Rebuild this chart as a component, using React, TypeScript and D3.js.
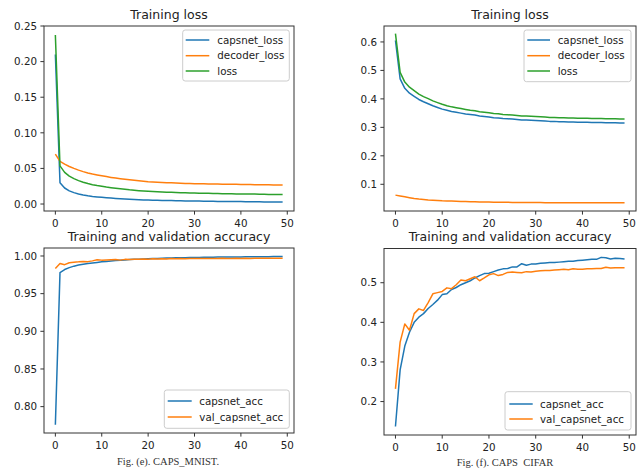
import React from "react";
import * as d3 from "d3";

const epochs: number[] = Array.from({ length: 50 }, (_, i) => i);
const xTicks = [0, 10, 20, 30, 40, 50];

// MNIST losses
const mnistCapsLoss = [0.210, 0.030, 0.0225, 0.0185, 0.0160, 0.0142, 0.0128, 0.0116, 0.0107, 0.0100,
  0.0094, 0.0088, 0.0083, 0.0078, 0.0074, 0.0070, 0.0066, 0.0063, 0.0060, 0.0058,
  0.0056, 0.0054, 0.0052, 0.0050, 0.0049, 0.0048, 0.0046, 0.0045, 0.0044, 0.0043,
  0.0042, 0.0041, 0.0040, 0.0039, 0.0038, 0.0037, 0.0036, 0.0036, 0.0035, 0.0034,
  0.0034, 0.0033, 0.0032, 0.0032, 0.0031, 0.0030, 0.0030, 0.0029, 0.0029, 0.0028];
const mnistDecLoss = [0.0700, 0.0600, 0.0560, 0.0527, 0.0500, 0.0476, 0.0455, 0.0437, 0.0422, 0.0409,
  0.0397, 0.0385, 0.0374, 0.0364, 0.0355, 0.0347, 0.0340, 0.0333, 0.0327, 0.0320,
  0.0314, 0.0310, 0.0306, 0.0303, 0.0300, 0.0297, 0.0294, 0.0291, 0.0289, 0.0287,
  0.0285, 0.0284, 0.0283, 0.0282, 0.0281, 0.0280, 0.0279, 0.0278, 0.0277, 0.0276,
  0.0275, 0.0274, 0.0273, 0.0272, 0.0271, 0.0270, 0.0269, 0.0268, 0.0268, 0.0267];
const mnistLoss = [0.2374, 0.0535, 0.0445, 0.0392, 0.0356, 0.0329, 0.0306, 0.0287, 0.0272, 0.0260,
  0.0250, 0.0239, 0.0230, 0.0221, 0.0213, 0.0206, 0.0199, 0.0194, 0.0188, 0.0183,
  0.0179, 0.0176, 0.0172, 0.0169, 0.0167, 0.0164, 0.0161, 0.0159, 0.0157, 0.0156,
  0.0154, 0.0152, 0.0151, 0.0150, 0.0148, 0.0147, 0.0145, 0.0145, 0.0144, 0.0142,
  0.0142, 0.0140, 0.0139, 0.0139, 0.0137, 0.0136, 0.0135, 0.0134, 0.0134, 0.0133];

// CIFAR losses
const cifarCapsLoss = [0.605, 0.470, 0.437, 0.420, 0.409, 0.398, 0.390, 0.383, 0.376, 0.370,
  0.364, 0.360, 0.356, 0.353, 0.350, 0.347, 0.345, 0.343, 0.340, 0.338,
  0.336, 0.334, 0.333, 0.331, 0.330, 0.329, 0.328, 0.326, 0.326, 0.325,
  0.324, 0.323, 0.322, 0.321, 0.321, 0.320, 0.320, 0.319, 0.319, 0.318,
  0.318, 0.318, 0.317, 0.317, 0.317, 0.316, 0.316, 0.316, 0.315, 0.315];
const cifarDecLoss = [0.062, 0.059, 0.056, 0.053, 0.050, 0.048, 0.047, 0.045, 0.044, 0.043,
  0.042, 0.0415, 0.041, 0.0405, 0.040, 0.0395, 0.039, 0.0386, 0.0382, 0.0378,
  0.0375, 0.0372, 0.0370, 0.0368, 0.0366, 0.0364, 0.0362, 0.0361, 0.0360, 0.0359,
  0.0358, 0.0357, 0.0356, 0.0355, 0.0355, 0.0354, 0.0354, 0.0353, 0.0353, 0.0352,
  0.0352, 0.0351, 0.0351, 0.0350, 0.0350, 0.0350, 0.0349, 0.0349, 0.0349, 0.0348];
const cifarLoss = [0.629, 0.493, 0.459, 0.441, 0.429, 0.417, 0.408, 0.401, 0.393, 0.387,
  0.381, 0.376, 0.372, 0.369, 0.366, 0.363, 0.360, 0.358, 0.355, 0.353,
  0.351, 0.349, 0.348, 0.345, 0.344, 0.343, 0.342, 0.340, 0.340, 0.339,
  0.338, 0.337, 0.336, 0.335, 0.335, 0.334, 0.334, 0.333, 0.333, 0.332,
  0.332, 0.332, 0.331, 0.331, 0.331, 0.330, 0.330, 0.330, 0.329, 0.329];

// MNIST accuracy
const mnistAcc = [0.776, 0.978, 0.982, 0.9845, 0.9865, 0.988, 0.989, 0.990, 0.9908, 0.9915,
  0.9922, 0.9928, 0.9934, 0.9939, 0.9944, 0.9948, 0.9952, 0.9955, 0.9958, 0.9961,
  0.9963, 0.9966, 0.9968, 0.9970, 0.9972, 0.9973, 0.9975, 0.9976, 0.9978, 0.9979,
  0.9980, 0.9981, 0.9982, 0.9983, 0.9984, 0.9985, 0.9986, 0.9986, 0.9987, 0.9988,
  0.9988, 0.9989, 0.9989, 0.9990, 0.9990, 0.9991, 0.9991, 0.9992, 0.9992, 0.9992];
const mnistValAcc = [0.9835, 0.9900, 0.9885, 0.9910, 0.9918, 0.9922, 0.9928, 0.9925, 0.9935, 0.9950,
  0.9945, 0.9948, 0.9950, 0.9953, 0.9945, 0.9955, 0.9952, 0.9958, 0.9956, 0.9960,
  0.9958, 0.9962, 0.9960, 0.9963, 0.9961, 0.9965, 0.9962, 0.9966, 0.9964, 0.9966,
  0.9967, 0.9965, 0.9968, 0.9966, 0.9968, 0.9967, 0.9969, 0.9967, 0.9968, 0.9969,
  0.9968, 0.9970, 0.9968, 0.9969, 0.9970, 0.9969, 0.9970, 0.9969, 0.9970, 0.9969];

// CIFAR accuracy
const cifarAcc = [0.137, 0.280, 0.340, 0.375, 0.400, 0.413, 0.422, 0.435, 0.445, 0.456,
  0.470, 0.472, 0.483, 0.488, 0.495, 0.500, 0.505, 0.512, 0.518, 0.523,
  0.524, 0.528, 0.532, 0.535, 0.536, 0.540, 0.540, 0.548, 0.544, 0.547,
  0.547, 0.549, 0.550, 0.551, 0.551, 0.552, 0.553, 0.554, 0.554, 0.556,
  0.557, 0.558, 0.559, 0.559, 0.564, 0.563, 0.560, 0.562, 0.561, 0.560];
const cifarValAcc = [0.232, 0.350, 0.396, 0.380, 0.422, 0.434, 0.430, 0.450, 0.472, 0.475,
  0.478, 0.487, 0.485, 0.495, 0.507, 0.505, 0.510, 0.515, 0.505, 0.512,
  0.520, 0.523, 0.518, 0.521, 0.526, 0.527, 0.526, 0.525, 0.528, 0.527,
  0.529, 0.530, 0.531, 0.531, 0.532, 0.533, 0.534, 0.533, 0.535, 0.534,
  0.534, 0.535, 0.535, 0.536, 0.536, 0.539, 0.537, 0.538, 0.538, 0.538];

const C_BLUE = "#1f77b4";
const C_ORANGE = "#ff7f0e";
const C_GREEN = "#2ca02c";
const FONT = "DejaVu Sans, sans-serif";

type Series = { name: string; color: string; values: number[] };
type PanelProps = {
  title: string;
  left: number; right: number; top: number; bottom: number;
  yDomain: [number, number];
  yTicks: number[];
  yFmt: string;
  series: Series[];
  legend: { x0: number; x1: number; y0: number; y1: number; rows: number[]; lineX0: number; lineX1: number; textX: number };
};

function Panel(p: PanelProps) {
  const x = d3.scaleLinear().domain([-2.45, 51.45]).range([p.left, p.right]);
  const y = d3.scaleLinear().domain(p.yDomain).range([p.bottom, p.top]);
  const line = d3.line<number>().x((_, i) => x(epochs[i])).y((v) => y(v));
  const fmt = d3.format(p.yFmt);
  const cx = (p.left + p.right) / 2;
  return (
    <g>
      <defs>
        <clipPath id={`clip-${p.left}-${p.top}`}>
          <rect x={p.left} y={p.top} width={p.right - p.left} height={p.bottom - p.top} />
        </clipPath>
      </defs>
      <text x={cx} y={p.top - 7.5} textAnchor="middle" fontFamily={FONT} fontSize={12.5} fill="#222">{p.title}</text>
      <g clipPath={`url(#clip-${p.left}-${p.top})`}>
        {p.series.map((s) => (
          <path key={s.name} d={line(s.values) || ""} fill="none" stroke={s.color} strokeWidth={1.5} strokeLinejoin="round" />
        ))}
      </g>
      <rect x={p.left} y={p.top} width={p.right - p.left} height={p.bottom - p.top} fill="none" stroke="#333" strokeWidth={1} />
      {xTicks.map((t) => (
        <g key={"x" + t}>
          <line x1={x(t)} x2={x(t)} y1={p.bottom} y2={p.bottom + 3.6} stroke="#333" strokeWidth={1} />
          <text x={x(t)} y={p.bottom + 15.5} textAnchor="middle" fontFamily={FONT} fontSize={10.3} fill="#222">{t}</text>
        </g>
      ))}
      {p.yTicks.map((t) => (
        <g key={"y" + t}>
          <line x1={p.left - 3.6} x2={p.left} y1={y(t)} y2={y(t)} stroke="#333" strokeWidth={1} />
          <text x={p.left - 7} y={y(t) + 3.7} textAnchor="end" fontFamily={FONT} fontSize={10.3} fill="#222">{fmt(t)}</text>
        </g>
      ))}
      <rect x={p.legend.x0} y={p.legend.y0} width={p.legend.x1 - p.legend.x0} height={p.legend.y1 - p.legend.y0}
        rx={2.5} fill="white" fillOpacity={0.8} stroke="#cccccc" strokeWidth={1} />
      {p.series.map((s, i) => (
        <g key={"l" + s.name}>
          <line x1={p.legend.lineX0} x2={p.legend.lineX1} y1={p.legend.rows[i]} y2={p.legend.rows[i]} stroke={s.color} strokeWidth={1.5} />
          <text x={p.legend.textX} y={p.legend.rows[i] + 3.7} fontFamily={FONT} fontSize={10.3} fill="#222">{s.name}</text>
        </g>
      ))}
    </g>
  );
}

export default function App() {
  return (
    <div style={{ position: "absolute", left: 0, top: 0 }}>
      <svg width={641} height={470} viewBox="0 0 641 470" style={{ display: "block", background: "white" }}>
        <rect width={641} height={470} fill="white" />
        <Panel
          title="Training loss"
          left={44} right={294} top={26} bottom={211}
          yDomain={[-0.0098, 0.25]} yTicks={[0, 0.05, 0.1, 0.15, 0.2, 0.25]} yFmt=".2f"
          series={[
            { name: "capsnet_loss", color: C_BLUE, values: mnistCapsLoss },
            { name: "decoder_loss", color: C_ORANGE, values: mnistDecLoss },
            { name: "loss", color: C_GREEN, values: mnistLoss },
          ]}
          legend={{ x0: 182.7, x1: 289.3, y0: 30, y1: 81, rows: [40, 55.7, 71], lineX0: 185.7, lineX1: 209.3, textX: 217.3 }}
        />
        <Panel
          title="Training loss"
          left={384} right={636} top={26} bottom={211}
          yDomain={[0.0062, 0.656]} yTicks={[0.1, 0.2, 0.3, 0.4, 0.5, 0.6]} yFmt=".1f"
          series={[
            { name: "capsnet_loss", color: C_BLUE, values: cifarCapsLoss },
            { name: "decoder_loss", color: C_ORANGE, values: cifarDecLoss },
            { name: "loss", color: C_GREEN, values: cifarLoss },
          ]}
          legend={{ x0: 524, x1: 631, y0: 30, y1: 81.7, rows: [40, 55.7, 71], lineX0: 527.3, lineX1: 550, textX: 557.7 }}
        />
        <Panel
          title="Training and validation accuracy"
          left={44} right={294} top={248} bottom={433}
          yDomain={[0.765, 1.0106]} yTicks={[0.8, 0.85, 0.9, 0.95, 1.0]} yFmt=".2f"
          series={[
            { name: "capsnet_acc", color: C_BLUE, values: mnistAcc },
            { name: "val_capsnet_acc", color: C_ORANGE, values: mnistValAcc },
          ]}
          legend={{ x0: 164.3, x1: 289.3, y0: 390, y1: 428.3, rows: [401, 417], lineX0: 167.7, lineX1: 191.7, textX: 199.3 }}
        />
        <Panel
          title="Training and validation accuracy"
          left={384} right={636} top={248.5} bottom={435}
          yDomain={[0.1156, 0.5864]} yTicks={[0.2, 0.3, 0.4, 0.5]} yFmt=".1f"
          series={[
            { name: "capsnet_acc", color: C_BLUE, values: cifarAcc },
            { name: "val_capsnet_acc", color: C_ORANGE, values: cifarValAcc },
          ]}
          legend={{ x0: 505, x1: 631, y0: 391.7, y1: 430, rows: [404, 419], lineX0: 509.3, lineX1: 532.7, textX: 540 }}
        />
        <text x={168} y={465} textAnchor="middle" fontFamily="Liberation Serif, serif" fontSize={10.5} fill="#333">Fig. (e). CAPS_MNIST.</text>
        <text x={505} y={466} textAnchor="middle" fontFamily="Liberation Serif, serif" fontSize={10.5} fill="#333" style={{ whiteSpace: "pre" }}>Fig. (f). CAPS  CIFAR</text>
      </svg>
    </div>
  );
}
